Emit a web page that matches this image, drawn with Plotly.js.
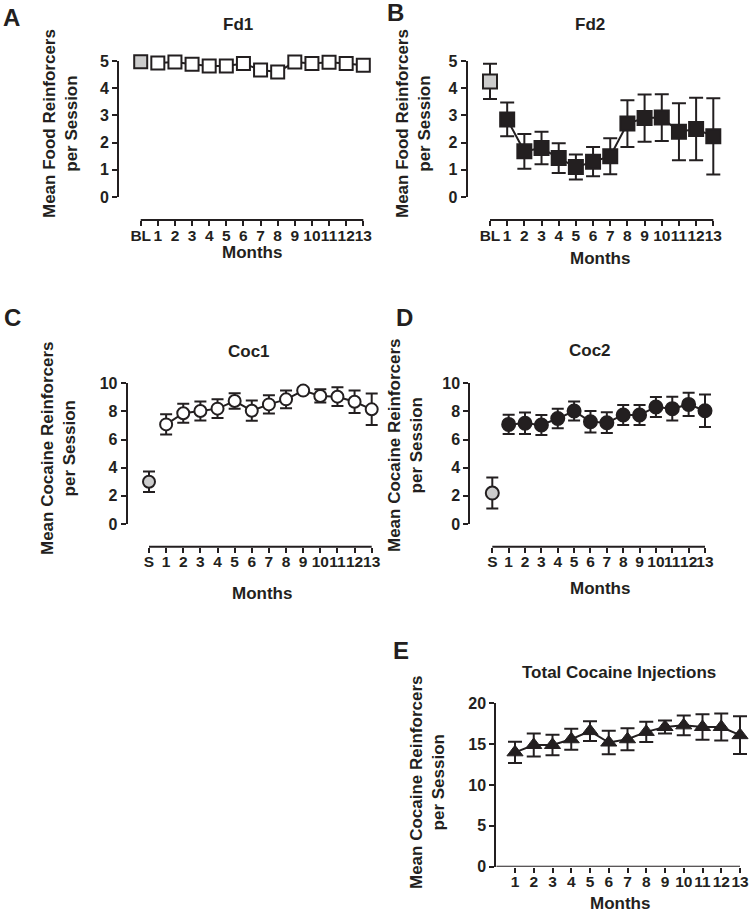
<!DOCTYPE html>
<html>
<head>
<meta charset="utf-8">
<script src="https://cdn.plot.ly/plotly-3.0.1.min.js"></script>
<style>html,body{margin:0;padding:0;background:#fff;} #chart{width:749px;height:914px;}</style>
</head>
<body>
<div id="chart"></div>
<script>
// ---- data ----
var fdLabels = ["BL","1","2","3","4","5","6","7","8","9","10","11","12","13"];
var cocLabels = ["S","1","2","3","4","5","6","7","8","9","10","11","12","13"];
var monthLabels = ["1","2","3","4","5","6","7","8","9","10","11","12","13"];

var fd1Mean = [4.97, 4.93, 4.96, 4.88, 4.82, 4.82, 4.91, 4.67, 4.60, 4.96, 4.91, 4.95, 4.91, 4.84];
var fd1Err  = [0.05, 0.05, 0.05, 0.05, 0.05, 0.05, 0.05, 0.12, 0.05, 0.05, 0.05, 0.05, 0.05, 0.05];

var fd2Mean = [4.25, 2.85, 1.68, 1.80, 1.43, 1.10, 1.30, 1.50, 2.70, 2.90, 2.92, 2.40, 2.50, 2.23];
var fd2Err  = [0.65, 0.62, 0.64, 0.60, 0.55, 0.46, 0.54, 0.66, 0.86, 0.87, 0.86, 1.05, 1.15, 1.40];

var coc1Mean = [3.00, 7.08, 7.87, 8.03, 8.20, 8.74, 8.05, 8.50, 8.86, 9.48, 9.10, 9.05, 8.69, 8.15];
var coc1Err  = [0.73, 0.72, 0.68, 0.68, 0.67, 0.55, 0.72, 0.65, 0.63, 0.20, 0.47, 0.67, 0.80, 1.12];

var coc2Mean = [2.20, 7.08, 7.16, 7.04, 7.50, 8.03, 7.27, 7.20, 7.75, 7.75, 8.32, 8.20, 8.50, 8.05];
var coc2Err  = [1.10, 0.68, 0.77, 0.71, 0.70, 0.68, 0.77, 0.74, 0.71, 0.71, 0.71, 0.85, 0.83, 1.15];

var totMean = [14.0, 14.9, 14.9, 15.6, 16.6, 15.2, 15.6, 16.5, 17.1, 17.3, 17.1, 17.1, 16.1];
var totErr  = [1.30, 1.40, 1.25, 1.30, 1.20, 1.45, 1.35, 1.25, 0.80, 1.20, 1.55, 1.65, 2.30];

// ---- styling ----
var INK = "#231f20", GREY = "#cccccc";
var FONT = "Liberation Sans, Arial, sans-serif";
var W = 749, H = 914;
var PAD = 0.45; // category padding so end markers / caps are not clipped
function fx(p) { return p / W; }
function fy(p) { return 1 - p / H; }

function errBar(arr, w) { return { type: "data", array: arr, color: INK, thickness: 2, width: w, visible: true }; }

function pair(ax, labels, mean, err, sym, size, fill, capW) {
  var xa = "x" + ax, ya = "y" + ax;
  return [
    { x: [labels[0]], y: [mean[0]], error_y: errBar([err[0]], capW), xaxis: xa, yaxis: ya,
      mode: "markers", cliponaxis: false, showlegend: false, hoverinfo: "x+y",
      marker: { symbol: sym, size: size, color: GREY, line: { color: INK, width: 2 } } },
    { x: labels.slice(1), y: mean.slice(1), error_y: errBar(err.slice(1), capW), xaxis: xa, yaxis: ya,
      mode: "lines+markers", cliponaxis: false, showlegend: false, hoverinfo: "x+y",
      line: { color: INK, width: 2 },
      marker: { symbol: sym, size: size, color: fill, line: { color: INK, width: 2 } } }
  ];
}

var traces = []
  .concat(pair("", fdLabels, fd1Mean, fd1Err, "square", 13, "#ffffff", 6))
  .concat(pair("2", fdLabels, fd2Mean, fd2Err, "square", 14, INK, 7))
  .concat(pair("3", cocLabels, coc1Mean, coc1Err, "circle", 12, "#ffffff", 6))
  .concat(pair("4", cocLabels, coc2Mean, coc2Err, "circle", 13, INK, 6));
traces.push({ x: monthLabels, y: totMean, error_y: errBar(totErr, 7), xaxis: "x5", yaxis: "y5",
  mode: "lines+markers", cliponaxis: false, showlegend: false, hoverinfo: "x+y",
  line: { color: INK, width: 2 },
  marker: { symbol: "triangle-up", size: 14, color: INK, line: { color: INK, width: 1 } } });

var xTickFont = { family: FONT, size: 15.5, color: INK, weight: "bold" };
var yTickFont = { family: FONT, size: 16, color: INK, weight: "bold" };

// first/last tick pixel positions given; domain is widened by PAD categories each side
function xAx(cats, first, last, lineY, anchor, lo) {
  var n = cats.length - 1, step = (last - first) / n;
  lo = lo || 0;
  var l = first - (PAD + lo) * step, r = last + PAD * step;
  var a = { type: "category", categoryorder: "array", categoryarray: cats,
    range: [-PAD - lo, n + PAD], tickmode: "array", tickvals: cats, ticktext: cats, tickangle: 0,
    domain: [fx(l), fx(r)], showline: false, ticks: "outside", ticklen: 5,
    tickwidth: 2, tickcolor: INK, tickfont: xTickFont, ticklabelstandoff: -4,
    showgrid: false, zeroline: false, fixedrange: true };
  if (anchor) { a.anchor = anchor; } else { a.anchor = "free"; a.position = fy(lineY); }
  return a;
}
function yAx(top, bot, axX, rng, dt, anchor) {
  var a = { range: rng, domain: [fy(bot), fy(top)], dtick: dt, tick0: 0, showline: true, linecolor: INK,
    linewidth: 2, ticks: "outside", ticklen: 5, tickwidth: 2, tickcolor: INK, tickfont: yTickFont,
    showgrid: false, zeroline: false, fixedrange: true };
  if (anchor) { a.anchor = anchor; } else { a.anchor = "free"; a.position = fx(axX); }
  return a;
}
// x axis line drawn from first to last category (or from the y axis for E)
function xLine(xref, x0, x1, yref, yv) {
  return { type: "line", xref: xref, yref: yref, x0: x0, x1: x1, y0: yv, y1: yv, layer: "above",
    line: { color: INK, width: 2 } };
}

function note(text, x, y, size, angle) {
  return { text: text, x: fx(x), y: fy(y), xref: "paper", yref: "paper", showarrow: false,
    xanchor: "center", yanchor: "middle", textangle: angle || 0,
    font: { family: FONT, size: size, color: INK, weight: "bold" } };
}

var foodLab = "Mean Food Reinforcers<br>per Session";
var cocLab = "Mean Cocaine Reinforcers<br>per Session";

var layout = {
  width: W, height: H, margin: { l: 0, r: 0, t: 0, b: 0 },
  paper_bgcolor: "#fff", plot_bgcolor: "rgba(0,0,0,0)",
  xaxis:  xAx(fdLabels, 140.7, 363.3, 220),
  yaxis:  yAx(61, 197, 118, [0, 5], 1),
  xaxis2: xAx(fdLabels, 490, 713.3, 220),
  yaxis2: yAx(61, 197, 466.7, [0, 5], 1),
  xaxis3: xAx(cocLabels, 149, 371.7, 546.7),
  yaxis3: yAx(383.3, 524, 126.7, [0, 10], 2),
  xaxis4: xAx(cocLabels, 492.3, 705, 546.7),
  yaxis4: yAx(383.3, 524, 469.3, [0, 10], 2),
  xaxis5: xAx(monthLabels, 515, 740, 0, "y5", 1 - PAD),
  yaxis5: yAx(703.3, 866.7, 0, [0, 20], 5, "x5"),
  shapes: [
    xLine("x", 0, fdLabels.length - 1, "paper", fy(220)),
    xLine("x2", 0, fdLabels.length - 1, "paper", fy(220)),
    xLine("x3", 0, cocLabels.length - 1, "paper", fy(546.7)),
    xLine("x4", 0, cocLabels.length - 1, "paper", fy(546.7)),
    xLine("x5", -1, monthLabels.length - 1, "y5", 0)
  ],
  annotations: [
    note("A", 11, 17, 24), note("B", 395, 12, 24), note("C", 12, 317, 24),
    note("D", 404, 317, 24), note("E", 401, 650, 24),
    note("Fd1", 238, 24, 17), note("Fd2", 590, 24, 17),
    note("Coc1", 249, 351, 17), note("Coc2", 590, 350, 17),
    note("Total Cocaine Injections", 619, 672, 17),
    note("Months", 252, 252, 17), note("Months", 600, 259, 17),
    note("Months", 262, 593, 17), note("Months", 600, 588, 17),
    note("Months", 620, 903, 17),
    note(foodLab, 61, 124, 17, -90), note(foodLab, 414, 124, 17, -90),
    note(cocLab, 59, 448, 17, -90), note(cocLab, 405, 445, 17, -90),
    note(cocLab, 427, 782, 17, -90)
  ]
};

Plotly.newPlot("chart", traces, layout, { displayModeBar: false, staticPlot: true });
</script>
</body>
</html>
